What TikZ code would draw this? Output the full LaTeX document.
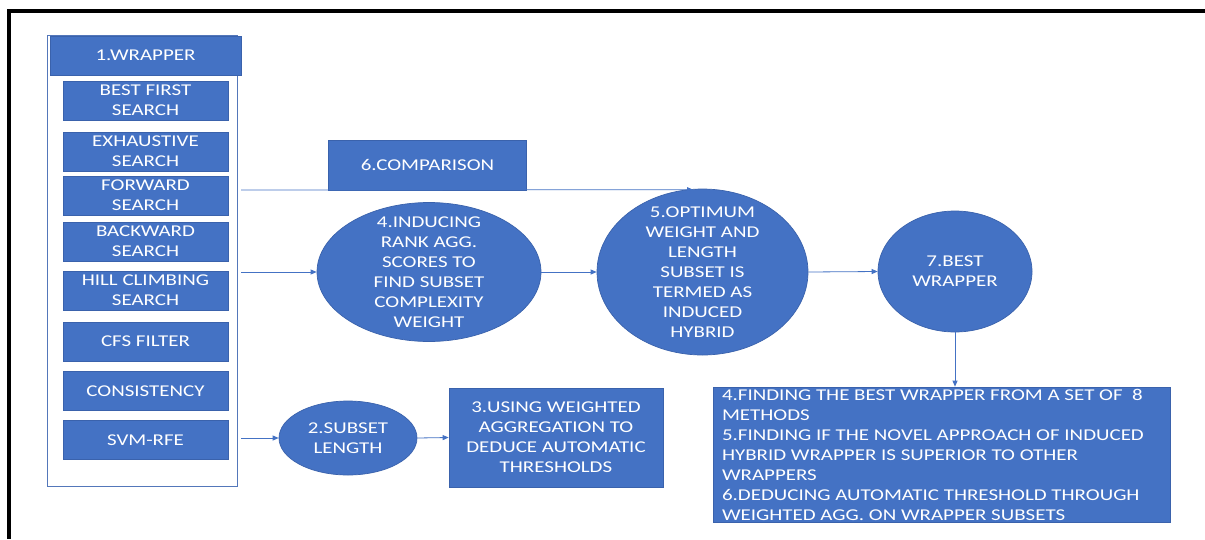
\documentclass[tikz,border=0pt]{standalone}
\usepackage{fontspec}
\setmainfont{Carlito}[FakeStretch=1.27]
\usetikzlibrary{shapes.geometric,arrows.meta}
\definecolor{ofblue}{HTML}{4472C4}
\definecolor{ofedge}{HTML}{3A62AC}
\definecolor{contedge}{HTML}{5377BA}
\newcommand{\etext}[1]{\lower2.5pt\vbox to 0pt{\vss\hbox to 0pt{\hss\begin{tabular}{@{}c@{}}#1\end{tabular}\hss}\vss}}
\begin{document}
\begin{tikzpicture}[x=1pt,y=-1pt,
  txt/.style={text=white,font=\fontsize{16.5}{20}\selectfont,align=center,inner sep=0pt},
  bx/.style={txt,rectangle,fill=ofblue,draw=ofedge,line width=0.7pt},
  inbox/.style={bx,minimum width=165pt,minimum height=39pt},
  ell/.style={txt,ellipse,fill=ofblue,draw=ofedge,line width=0.7pt},
  cont/.style={rectangle,draw=contedge,fill=white,line width=0.9pt,inner sep=0pt},
  conn/.style={draw=ofblue,line width=0.8pt,-{Triangle[length=6pt,width=5pt]}}]
\useasboundingbox (0,0) rectangle (1205,539);
\fill[white] (0,0) rectangle (1205,539);
% frame
\draw[line width=4pt,black] (7,11) -- (1205,11);
\draw[line width=4pt,black] (9,9) -- (9,539);

% wrapper container
\node[cont,minimum width=190pt,minimum height=451pt] (wrapbox) at (142,260.5) {};
\node[bx,minimum width=191pt,minimum height=39pt] (wrap) at (145.5,55.5) {1.WRAPPER};
\node[inbox] (best) at (145.5,100.5) {BEST FIRST\\SEARCH};
\node[inbox] (exh) at (145.5,151.5) {EXHAUSTIVE\\SEARCH};
\node[inbox] (fwd) at (145.5,195.5) {FORWARD\\SEARCH};
\node[inbox] (bwd) at (145.5,241.5) {BACKWARD\\SEARCH};
\node[inbox] (hill) at (145.5,290.5) {HILL CLIMBING\\SEARCH};
\node[inbox] (cfs) at (145.5,341.5) {CFS FILTER};
\node[inbox] (cons) at (145.5,391) {CONSISTENCY};
\node[inbox] (svm) at (145.5,440) {SVM-RFE};

% comparison
\node[bx,minimum width=198pt,minimum height=50pt] (cmp) at (427.5,165) {6.COMPARISON};

% ellipses
\node[ell,minimum width=224pt,minimum height=139pt] (e4) at (429,272)
  {\etext{4.INDUCING\\RANK AGG.\\SCORES TO\\FIND SUBSET\\COMPLEXITY\\WEIGHT}};
\node[ell,minimum width=211pt,minimum height=166pt] (e5) at (702.5,272)
  {\etext{5.OPTIMUM\\WEIGHT AND\\LENGTH\\SUBSET IS\\TERMED AS\\INDUCED\\HYBRID}};
\node[ell,minimum width=154pt,minimum height=121pt] (e7) at (955,271.5)
  {\etext{7.BEST\\WRAPPER}};
\node[ell,minimum width=138pt,minimum height=74pt] (e2) at (348,438)
  {\etext{2.SUBSET\\LENGTH}};

% box 3
\node[bx,minimum width=214pt,minimum height=99pt] (b3) at (556,437.5)
  {3.USING WEIGHTED\\AGGREGATION TO\\DEDUCE AUTOMATIC\\THRESHOLDS};

% goals box
\node[bx,minimum width=457pt,minimum height=135pt,align=left] (goals) at (941.5,454.5)
  {\parbox[c][115pt][c]{439pt}{\raggedright
   4.FINDING THE BEST WRAPPER FROM A SET OF~~8\\
   METHODS\\
   5.FINDING IF THE NOVEL APPROACH OF INDUCED\\
   HYBRID WRAPPER IS SUPERIOR TO OTHER\\
   WRAPPERS\\
   6.DEDUCING AUTOMATIC THRESHOLD THROUGH\\
   WEIGHTED AGG. ON WRAPPER SUBSETS}};

% connectors
\coordinate (cs) at (241,190);
\draw[conn] (cs) -- ([xshift=-9.5pt,yshift=-1pt]e5.north);
\draw[conn] ([xshift=4pt]wrapbox.east |- e4.west) -- (e4.west);
\draw[conn] (e4.east) -- (e5.west);
\draw[conn] (e5.east) -- (e7.west);
\draw[conn] (e7.south) -- (e7.south |- goals.north);
\draw[conn] ([xshift=4pt]wrapbox.east |- e2.west) -- (e2.west);
\draw[conn] (e2.east) -- (b3.west);
\end{tikzpicture}
\end{document}
